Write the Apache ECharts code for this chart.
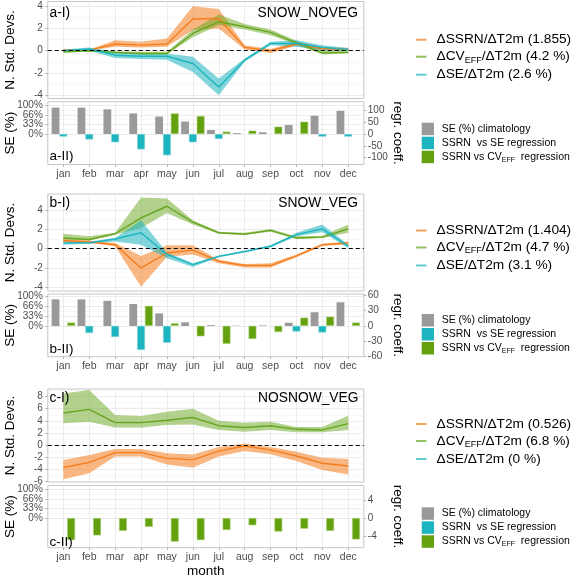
<!DOCTYPE html>
<html><head><meta charset="utf-8">
<script src="https://cdn.jsdelivr.net/npm/echarts@6/dist/echarts.min.js"></script>
<style>html,body{margin:0;padding:0;background:#fff}#c{width:575px;height:576px}</style>
</head><body><div id="c"></div>
<script>
// ---------- data ----------
const months = ['jan','feb','mar','apr','may','jun','jul','aug','sep','oct','nov','dec'];
const monthIdx = [1,2,3,4,5,6,7,8,9,10,11,12];

// a) SNOW_NOVEG
const aSsrn   = [0.05,0.05,0.6,0.5,0.6,2.85,2.9,0.3,0,0.6,0.2,0.1];
const aSsrnLo = [-0.1,0,0.35,0.3,0.35,1.85,2.0,0.1,-0.2,0.45,0.05,0];
const aSsrnHi = [0.1,0.1,0.95,0.8,1.1,4.0,3.75,0.5,0.15,0.8,0.35,0.25];
const aCv     = [-0.1,0,-0.15,-0.25,-0.25,1.55,2.6,2.15,1.65,0.7,-0.2,-0.15];
const aCvLo   = [-0.2,-0.05,-0.25,-0.35,-0.35,1.2,2.3,1.9,1.4,0.55,-0.35,-0.25];
const aCvHi   = [0.05,0.05,-0.05,-0.1,-0.1,1.9,3.25,2.4,1.9,0.9,0.05,0.05];
const aSe     = [0,0.15,-0.4,-0.5,-0.5,-1.15,-3.25,-0.85,0.65,0.65,0.3,0.1];
const aSeLo   = [-0.1,0,-0.65,-0.75,-0.8,-1.9,-4.0,-1.0,0.5,0.35,0.05,0];
const aSeHi   = [0.1,0.3,-0.1,-0.25,-0.25,-0.55,-2.5,-0.7,0.8,0.95,0.5,0.25];
const aSePct  = [91,91,85,71,60,43,14,3,6,31,63,80];
const aRegSe  = [-11,-23,-35,-65,-90,-35,-21,null,null,null,-11,-11];
const aRegCv  = [null,null,null,null,87,76,10,14,31,52,null,null];

// b) SNOW_VEG
const bSsrn   = [0.85,0.7,0.4,-2.0,-0.45,-0.15,-1.3,-1.75,-1.75,-0.75,0.4,0.6];
const bSsrnLo = [0.6,0.6,0.25,-3.95,-0.85,-0.6,-1.5,-1.95,-1.95,-0.9,0.3,0.4];
const bSsrnHi = [1.0,0.85,0.6,-0.75,0.35,0.35,-1.15,-1.6,-1.5,-0.6,0.5,0.75];
const bCv     = [1.1,0.95,1.55,3.2,4.4,2.75,1.65,1.5,1.9,1.1,1.2,2.05];
const bCvLo   = [0.95,0.85,1.45,2.15,3.7,2.5,1.55,1.45,1.75,1.0,1.1,1.65];
const bCvHi   = [1.55,1.3,1.65,5.3,5.2,2.95,1.75,1.65,2.05,1.3,1.35,2.5];
const bSe     = [0.6,0.6,1.0,1.65,-0.6,-1.65,-0.8,-0.3,0.25,1.45,2.05,0.25];
const bSeLo   = [0.4,0.5,0.75,0.4,-1.0,-1.9,-0.9,-0.4,0.15,1.3,1.7,0.05];
const bSeHi   = [0.75,0.75,1.1,2.95,-0.4,-1.5,-0.7,-0.2,0.35,1.65,2.5,0.4];
const bSePct  = [91,91,86,75,43,12.5,3,1,2,11,47,81];
const bRegSe  = [null,-14,-21.7,-47,-33,null,null,null,null,-11,-13,null];
const bRegCv  = [6.4,null,null,39,5,-20.4,-35,-25.5,-12,16,18,6.4];

// c) NOSNOW_VEG
const cSsrn   = [-3.7,-2.85,-1.25,-1.25,-2.2,-2.45,-1.0,-0.15,-0.8,-1.8,-3.0,-3.45];
const cSsrnLo = [-5.65,-4.65,-1.9,-1.9,-3.2,-3.75,-1.9,-1.0,-1.5,-2.65,-4.1,-4.85];
const cSsrnHi = [-2.45,-1.65,-0.65,-0.65,-1.35,-1.55,-0.3,0.25,-0.3,-1.1,-2.1,-2.3];
const cCv     = [5.3,5.9,3.7,3.7,4.1,4.55,3.2,2.9,3.2,2.6,2.5,3.55];
const cCvLo   = [3.6,3.85,2.9,2.9,3.3,3.4,2.5,2.2,2.5,2.1,2.1,2.5];
const cCvHi   = [8.5,9.1,4.95,4.8,5.5,6.0,4.0,3.7,3.85,3.0,3.0,4.85];
const cSe     = [];
const cSePct  = [0,0,0,0,0,0,0,0,0,0,0,0];
const cRegSe  = [null,null,null,null,null,null,null,null,null,null,null,null];
const cRegCv  = [-4.9,-3.85,-2.85,-1.95,-5.25,-4.9,-2.65,-1.6,-3.0,-2.35,-2.85,-4.75];

// tick labels
const nsdTicksA = [-4,-2,0,2,4];
const nsdTicksB = [-4,-2,0,2,4];
const nsdTicksC = [-6,-4,-2,0,2,4,6,8];
const pctTicks  = [0,33,66,100];
const pctLabels1 = [0,66];     // drawn by the main left axis
const pctLabels2 = [33,100];   // drawn by a companion left axis
const regTicksA = [-100,-50,0,50,100];
const regTicksB = [-60,-30,0,30,60];
const regTicksC = [-4,0,4];

// legend texts
const legA = ['1.855','4.2 %','2.6 %'];
const legB = ['1.404','4.7 %','3.1 %'];
const legC = ['0.526','6.8 %','0 %'];
const panelNames = ['SNOW_NOVEG','SNOW_VEG','NOSNOW_VEG'];

// ---------- style ----------
const FONT = '"Liberation Sans", Arial, Helvetica, sans-serif';
const COL = {orange:'#F47D1E', green:'#66A61E', cyan:'#1CB4BE', gray:'#9A9A9A', green2:'#64A10E'};
const BAND = {orange:'rgba(244,125,30,0.55)', green:'rgba(102,166,30,0.5)', cyan:'rgba(28,180,190,0.55)'};
const KEY = {orange:'rgba(244,125,30,0.7)', green:'rgba(102,166,30,0.7)', cyan:'rgba(28,180,190,0.7)'};
const GRIDC = '#e4e4e4', MINORC = '#efefef', BORDER = '#b8b8b8', TICKC = '#4d4d4d';

const pts = arr => arr.map((v,i)=>[monthIdx[i], v]);

const grids = [
  {left:47.8, top:1.5,   width:316, height:97},
  {left:47.8, top:101.7, width:316, height:62.8},
  {left:47.8, top:194,   width:316, height:97},
  {left:47.8, top:294,   width:316, height:62.7},
  {left:47.8, top:389,   width:316, height:93},
  {left:47.8, top:485.5, width:316, height:62.2}
].map(g=>Object.assign({show:true, borderColor:BORDER, borderWidth:0.8, backgroundColor:'#fff',
  containLabel:false, outerBoundsMode:'none'}, g));

function xAx(gi, showLab, name){
  return {type:'value', gridIndex:gi, min:0.4, max:12.6,
    axisLine:{show:false, onZero:false},
    axisTick:{show:showLab, customValues:monthIdx, length:2.5, lineStyle:{color:'#b3b3b3'}},
    axisLabel:{show:showLab, customValues:monthIdx, formatter:v=>months[Math.round(v)-1], hideOverlap:false,
      color:TICKC, fontSize:10.5, fontFamily:FONT, margin:4},
    splitLine:{show:true, lineStyle:{color:GRIDC, width:0.7}},
    name: name||'', nameLocation:'middle', nameGap:17, nameMoveOverlap:false,
    nameTextStyle:{fontSize:13.5, fontFamily:FONT, color:'#000'}};
}
function yMain(gi, min, max, ticks, labels, fmt, name){
  return {type:'value', gridIndex:gi, min, max, position:'left',
    axisLine:{show:false, onZero:false},
    axisTick:{show:true, customValues:ticks, length:2.5, lineStyle:{color:'#b3b3b3'}},
    axisLabel:{customValues:labels, formatter:fmt||(v=>String(v)), hideOverlap:false, showMinLabel:true, showMaxLabel:true,
      color:TICKC, fontSize:10, fontFamily:FONT, margin:5},
    splitLine:{show:true, lineStyle:{color:GRIDC, width:0.7}},
    name, nameLocation:'middle', nameRotate:90, nameGap:31, nameMoveOverlap:false,
    nameTextStyle:{fontSize:13.5, fontFamily:FONT, color:'#000'}};
}
function yLabelsOnly(gi, min, max, labels, fmt){
  return {type:'value', gridIndex:gi, min, max, position:'left',
    axisLine:{show:false, onZero:false}, axisTick:{show:false, customValues:labels},
    axisLabel:{customValues:labels, formatter:fmt, hideOverlap:false, showMinLabel:true, showMaxLabel:true,
      color:TICKC, fontSize:10, fontFamily:FONT, margin:5},
    splitLine:{show:false}};
}
function yMinor(gi, min, max, vals){
  return {type:'value', gridIndex:gi, min, max, position:'left',
    axisLine:{show:false, onZero:false}, axisTick:{show:false, customValues:vals},
    axisLabel:{show:false}, splitLine:{show:true, lineStyle:{color:MINORC, width:0.5}}};
}
function yRight(gi, min, max, ticks){
  return {type:'value', gridIndex:gi, min, max, position:'right',
    axisLine:{show:false, onZero:false},
    axisTick:{show:true, customValues:ticks, length:2.5, lineStyle:{color:'#b3b3b3'}},
    axisLabel:{customValues:ticks, hideOverlap:false, showMinLabel:true, showMaxLabel:true,
      color:TICKC, fontSize:10, fontFamily:FONT, margin:4},
    splitLine:{show:false},
    name:'regr. coeff.', nameLocation:'middle', nameRotate:-90, nameGap:27, nameMoveOverlap:false,
    nameTextStyle:{fontSize:13.5, fontFamily:FONT, color:'#000'}};
}
const pctFmt = v => v + '%';
const idFmt = v => String(v);

const xAxis = [xAx(0,false), xAx(1,true), xAx(2,false), xAx(3,true), xAx(4,false), xAx(5,true,'month')];
const yAxis = [
  yMain(0,-4.29,4.42,nsdTicksA,nsdTicksA,idFmt,'N. Std. Devs.'),   //0
  yMinor(0,-4.29,4.42,[-3,-1,1,3]),                               //1
  yMain(1,-105.2,111.4,pctTicks,pctLabels1,pctFmt,'SE (%)'),      //2
  yRight(1,-128.9,136.5,regTicksA),                               //3
  yMinor(1,-105.2,111.4,[16.5,49.5,83]),                          //4
  yMain(2,-4.39,5.67,nsdTicksB,nsdTicksB,idFmt,'N. Std. Devs.'),   //5
  yMinor(2,-4.39,5.67,[-3,-1,1,3,5]),                             //6
  yMain(3,-104.8,109.2,pctTicks,pctLabels1,pctFmt,'SE (%)'),      //7
  yRight(3,-60.2,62.2,regTicksB),                                 //8
  yMinor(3,-104.8,109.2,[16.5,49.5,83]),                          //9
  yMain(4,-6.1,9.26,nsdTicksC,nsdTicksC,idFmt,'N. Std. Devs.'),    //10
  yMinor(4,-6.1,9.26,[-5,-3,-1,1,3,5,7,9]),                       //11
  yMain(5,-104,114,pctTicks,pctLabels1,pctFmt,'SE (%)'),          //12
  yRight(5,-6.6,7.26,regTicksC),                                  //13
  yMinor(5,-104,114,[16.5,49.5,83]),                              //14
  yLabelsOnly(1,-105.2,111.4,pctLabels2,pctFmt),                  //15
  yLabelsOnly(3,-104.8,109.2,pctLabels2,pctFmt),                  //16
  yLabelsOnly(5,-104,114,pctLabels2,pctFmt)                       //17
];

// ribbon drawn as one polygon through the axes' scales
function band(name, lo, hi, color, xi, yi){
  if (!lo.length) return [];
  return [{type:'custom', name, xAxisIndex:xi, yAxisIndex:yi, silent:true, z:1,
    data: lo.map((l,i)=>[monthIdx[i], l, hi[i]]),
    encode:{x:0, y:[1,2]},
    renderItem:(params, api)=>{
      if (params.dataIndexInside !== 0) return;
      const n = params.dataInsideLength, top = [], bot = [];
      for (let j=0;j<n;j++){
        top.push(api.coord([api.value(0,j), api.value(2,j)]));
        bot.push(api.coord([api.value(0,j), api.value(1,j)]));
      }
      return {type:'polygon', shape:{points: top.concat(bot.reverse())}, style:{fill:color}};
    }}];
}
function zeroLine(){
  return {silent:true, symbol:['none','none'], label:{show:false}, z:6,
    lineStyle:{color:'#000', type:[4,3], width:1.1}, data:[{yAxis:0}]};
}
function line(name, vals, color, xi, yi, zero){
  const s = {type:'line', name, xAxisIndex:xi, yAxisIndex:yi, data:pts(vals), symbol:'none',
    lineStyle:{color, width:1.4}, itemStyle:{color}, z:3, silent:true};
  if (zero) s.markLine = zeroLine();
  return s;
}
function bars(p, xi, yl, yr, se, rse, rcv){
  const common = {type:'bar', xAxisIndex:xi, barWidth:7.8, barGap:'0%', silent:true, z:2};
  return [
    Object.assign({}, common, {name:p+'_gray', yAxisIndex:yl, data:pts(se), itemStyle:{color:COL.gray}}),
    Object.assign({}, common, {name:p+'_cyan', yAxisIndex:yr, data:pts(rse), itemStyle:{color:COL.cyan, borderColor:'#7fd3d8', borderWidth:0.6}}),
    Object.assign({}, common, {name:p+'_green', yAxisIndex:yr, data:pts(rcv), itemStyle:{color:COL.green2, borderColor:'#a6cc6e', borderWidth:0.6}})
  ];
}
function panel(p, xiT, yiT, xiB, yl, yr, d){
  return [].concat(
    band(p+'ssrnband', d.ssrnLo, d.ssrnHi, BAND.orange, xiT, yiT),
    band(p+'cvband', d.cvLo, d.cvHi, BAND.green, xiT, yiT),
    band(p+'seband', d.seLo, d.seHi, BAND.cyan, xiT, yiT),
    [line(p+'_ssrn', d.ssrn, COL.orange, xiT, yiT, true),
     line(p+'_cv', d.cv, COL.green, xiT, yiT, false),
     line(p+'_se', d.se, COL.cyan, xiT, yiT, false)],
    bars(p, xiB, yl, yr, d.pct, d.rse, d.rcv)
  );
}
const series = [].concat(
  panel('a',0,0,1,2,3,{ssrn:aSsrn,ssrnLo:aSsrnLo,ssrnHi:aSsrnHi,cv:aCv,cvLo:aCvLo,cvHi:aCvHi,se:aSe,seLo:aSeLo,seHi:aSeHi,pct:aSePct,rse:aRegSe,rcv:aRegCv}),
  panel('b',2,5,3,7,8,{ssrn:bSsrn,ssrnLo:bSsrnLo,ssrnHi:bSsrnHi,cv:bCv,cvLo:bCvLo,cvHi:bCvHi,se:bSe,seLo:bSeLo,seHi:bSeHi,pct:bSePct,rse:bRegSe,rcv:bRegCv}),
  panel('c',4,10,5,12,13,{ssrn:cSsrn,ssrnLo:cSsrnLo,ssrnHi:cSsrnHi,cv:cCv,cvLo:cCvLo,cvHi:cCvHi,se:cSe,seLo:[],seHi:[],pct:cSePct,rse:cRegSe,rcv:cRegCv})
);

// ---------- legends ----------
const LBL = {};
[['a',legA],['b',legB],['c',legC]].forEach(([p,v])=>{
  LBL[p+'_ssrn'] = '{s| }{t|ΔSSRN/ΔT2m (' + v[0] + ')}';
  LBL[p+'_cv']   = '{s| }{t|ΔCV}{b|EFF}{t|/ΔT2m (' + v[1] + ')}';
  LBL[p+'_se']   = '{s| }{t|ΔSE/ΔT2m (' + v[2] + ')}';
  LBL[p+'_gray'] = '{s| }{t|SE (%) climatology}';
  LBL[p+'_cyan'] = '{s| }{t|SSRN  vs SE regression}';
  LBL[p+'_green']= '{s| }{t|SSRN vs CV}{b|EFF}{t|  regression}';
});
const richTop = {
  s:{width:5, fontSize:13.7, lineHeight:16},
  t:{fontSize:13.7, fontFamily:FONT, color:'#000', lineHeight:16},
  b:{fontSize:9, fontFamily:FONT, color:'#000', lineHeight:8, verticalAlign:'bottom'}
};
const richBot = {
  s:{width:2.7, fontSize:10.5, lineHeight:12.5},
  t:{fontSize:10.5, fontFamily:FONT, color:'#000', lineHeight:12.5},
  b:{fontSize:7, fontFamily:FONT, color:'#000', lineHeight:6.5, verticalAlign:'bottom'}
};
function legTop(p, top){
  return {orient:'vertical', left:416, top, padding:0, icon:'rect', itemWidth:10.5, itemHeight:2, itemGap:3,
    selectedMode:false, formatter:n=>LBL[n], textStyle:{rich:richTop, fontSize:13.7, fontFamily:FONT},
    data:[{name:p+'_ssrn', itemStyle:{color:KEY.orange}}, {name:p+'_cv', itemStyle:{color:KEY.green}}, {name:p+'_se', itemStyle:{color:KEY.cyan}}]};
}
function legBot(p, top){
  return {orient:'vertical', left:421.7, top, padding:0, icon:'rect', itemWidth:12.3, itemHeight:12.5, itemGap:1.5,
    selectedMode:false, formatter:n=>LBL[n], textStyle:{rich:richBot, fontSize:10.5, fontFamily:FONT},
    data:[{name:p+'_gray', itemStyle:{color:COL.gray, borderWidth:0}}, {name:p+'_cyan', itemStyle:{color:COL.cyan, borderWidth:0}}, {name:p+'_green', itemStyle:{color:COL.green2, borderWidth:0}}]};
}
const legend = [legTop('a',32.7), legBot('a',122.7), legTop('b',223.5), legBot('b',314), legTop('c',417), legBot('c',507.3)];

// ---------- panel labels ----------
function txt(text, x, y, align, size){
  return {type:'text', x, y, z:50, silent:true,
    style:{text, fontSize:size, fontFamily:FONT, fill:'#000', align, verticalAlign:'middle'}};
}
const graphic = [
  txt('a-I)',49.5,13.3,'left',13.8), txt(panelNames[0],358,13.3,'right',13.8), txt('a-II)',49.5,156,'left',13.5),
  txt('b-I)',49.5,203.3,'left',13.8), txt(panelNames[1],358,203.3,'right',13.8), txt('b-II)',49.5,349.5,'left',13.5),
  txt('c-I)',49.5,398.3,'left',13.8), txt(panelNames[2],358.5,398.3,'right',13.8), txt('c-II)',49.5,542,'left',13.5)
];

const chart = echarts.init(document.getElementById('c'), null, {renderer:'canvas'});
chart.setOption({animation:false, backgroundColor:'#fff', textStyle:{fontFamily:FONT},
  grid:grids, xAxis, yAxis, series, legend, graphic});
</script></body></html>
